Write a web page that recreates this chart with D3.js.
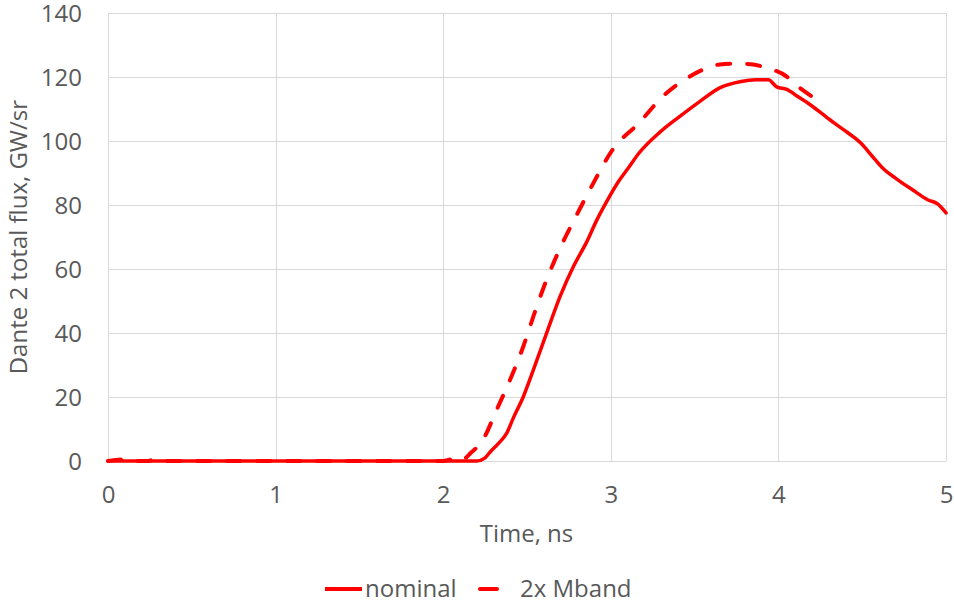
<!DOCTYPE html>
<html>
<head>
<meta charset="utf-8">
<script src="https://cdn.jsdelivr.net/npm/d3@7"></script>
<style>
  html, body { margin: 0; padding: 0; background: #fff; }
  svg { display: block; }
  text { font-family: "Open Sans", "Noto Sans", sans-serif; fill: #595959; }
</style>
</head>
<body>
<svg id="chart" width="954" height="607"></svg>
<script>
// Dante 2 total flux vs time, two simulation runs
const seriesNames = ["nominal", "2x Mband"];

const nominalTime = [0, 0.5, 1, 1.5, 2, 2.2, 2.25, 2.28, 2.33, 2.38, 2.418, 2.478, 2.538, 2.617, 2.697, 2.777, 2.857, 2.917, 2.976, 3.046, 3.1, 3.17, 3.29, 3.41, 3.53, 3.65, 3.77, 3.87, 3.94, 3.99, 4.05, 4.12, 4.19, 4.29, 4.33, 4.41, 4.49, 4.56, 4.62, 4.7, 4.8, 4.89, 4.95, 5.0];
const nominalFlux = [0, 0, 0, 0, 0, 0, 1, 2.8, 5.5, 8.8, 13.4, 20.1, 28.5, 40, 51.4, 60.8, 68.6, 75.4, 81.2, 87.4, 91.3, 96.4, 102.7, 107.7, 112.4, 116.7, 118.6, 119.2, 119.2, 117, 116.2, 113.8, 111.4, 107.4, 105.8, 102.8, 99.5, 95.3, 91.7, 88.4, 84.8, 81.7, 80.4, 77.6];

const mbandTime = [0, 0.09, 0.14, 0.24, 0.28, 0.33, 0.5, 1, 1.5, 2, 2.05, 2.1, 2.17, 2.23, 2.319, 2.399, 2.478, 2.538, 2.617, 2.707, 2.797, 2.896, 3.01, 3.17, 3.31, 3.47, 3.56, 3.65, 3.75, 3.85, 3.9, 3.97, 4.05, 4.09, 4.15, 4.21];
const mbandFlux = [0, 0.5, 0, 0, 0.6, 0, 0, 0, 0, 0, 0.5, 0, 2.8, 6, 16, 25.4, 35.8, 45.2, 56.7, 67.6, 77, 86.9, 97.3, 105.8, 114, 120.2, 122.6, 124, 124.3, 124, 123.4, 122.3, 120.2, 118.2, 115.8, 113.6];

const xTicks = [0, 1, 2, 3, 4, 5];
const yTicks = [0, 20, 40, 60, 80, 100, 120, 140];

const xTitle = "Time, ns";
const yTitle = "Dante 2 total flux, GW/sr";

const svg = d3.select("#chart");
const plot = { left: 108, right: 946, top: 13.3, bottom: 461 };
const fontSize = "24px";
const fontFamily = '"Open Sans", "Noto Sans", sans-serif';

const x = d3.scaleLinear().domain([0, 5]).range([plot.left, plot.right]);
const y = d3.scaleLinear().domain([0, 140]).range([plot.bottom, plot.top]);

const red = "#ff0000";
const grid = "#d9d9d9";

// gridlines
svg.append("g")
  .selectAll("line")
  .data(yTicks)
  .join("line")
  .attr("x1", plot.left).attr("x2", plot.right)
  .attr("y1", d => Math.round(y(d)) + 0.5).attr("y2", d => Math.round(y(d)) + 0.5)
  .attr("stroke", grid).attr("stroke-width", 1);

svg.append("g")
  .selectAll("line")
  .data(xTicks)
  .join("line")
  .attr("x1", d => Math.round(x(d)) + 0.5).attr("x2", d => Math.round(x(d)) + 0.5)
  .attr("y1", plot.top).attr("y2", plot.bottom)
  .attr("stroke", grid).attr("stroke-width", 1);

// axes (labels only)
const xAxis = d3.axisBottom(x).tickValues(xTicks).tickSize(0).tickPadding(0).tickFormat(d3.format("d"));
const gx = svg.append("g").attr("transform", `translate(0,${plot.bottom})`).call(xAxis);
gx.select(".domain").remove();
gx.selectAll("text")
  .attr("dy", null).attr("y", 42)
  .style("font-size", fontSize).style("fill", "#595959")
  .style("font-family", fontFamily);

const yAxis = d3.axisLeft(y).tickValues(yTicks).tickSize(0).tickPadding(0).tickFormat(d3.format("d"));
const gy = svg.append("g").attr("transform", `translate(${plot.left - 26},0)`).call(yAxis);
gy.select(".domain").remove();
gy.selectAll("text")
  .attr("dy", "0.35em").attr("x", 0)
  .style("font-size", fontSize).style("fill", "#595959")
  .style("font-family", fontFamily);

// axis titles
svg.append("text")
  .attr("x", (plot.left + plot.right) / 2 - 0.5).attr("y", 542)
  .attr("text-anchor", "middle")
  .style("font-size", fontSize)
  .text(xTitle);

svg.append("text")
  .attr("transform", `translate(27,${(plot.top + plot.bottom) / 2}) rotate(-90)`)
  .attr("text-anchor", "middle")
  .style("font-size", fontSize)
  .text(yTitle);

// series lines
const line = d3.line().x(d => x(d[0])).y(d => y(d[1])).curve(d3.curveMonotoneX);

const nominalData = d3.zip(nominalTime, nominalFlux);
const mbandData = d3.zip(mbandTime, mbandFlux);

svg.append("path")
  .datum(mbandData)
  .attr("d", line)
  .attr("fill", "none").attr("stroke", red)
  .attr("stroke-width", 4).attr("stroke-linecap", "round").attr("stroke-linejoin", "round")
  .attr("stroke-dasharray", "13,17");

svg.append("path")
  .datum(nominalData)
  .attr("d", line)
  .attr("fill", "none").attr("stroke", red)
  .attr("stroke-width", 3.5).attr("stroke-linecap", "round").attr("stroke-linejoin", "round");

// legend
const legend = svg.append("g");
const legendY = 589;
legend.append("line")
  .attr("x1", 325).attr("x2", 362).attr("y1", legendY).attr("y2", legendY)
  .attr("stroke", red).attr("stroke-width", 4);
legend.append("text")
  .attr("x", 365).attr("y", legendY).attr("dy", "0.35em")
  .style("font-size", fontSize)
  .text(seriesNames[0]);
legend.append("line")
  .attr("x1", 480).attr("x2", 497).attr("y1", legendY).attr("y2", legendY)
  .attr("stroke", red).attr("stroke-width", 4).attr("stroke-linecap", "round");
legend.append("text")
  .attr("x", 520).attr("y", legendY).attr("dy", "0.35em")
  .style("font-size", fontSize)
  .text(seriesNames[1]);
</script>
</body>
</html>
